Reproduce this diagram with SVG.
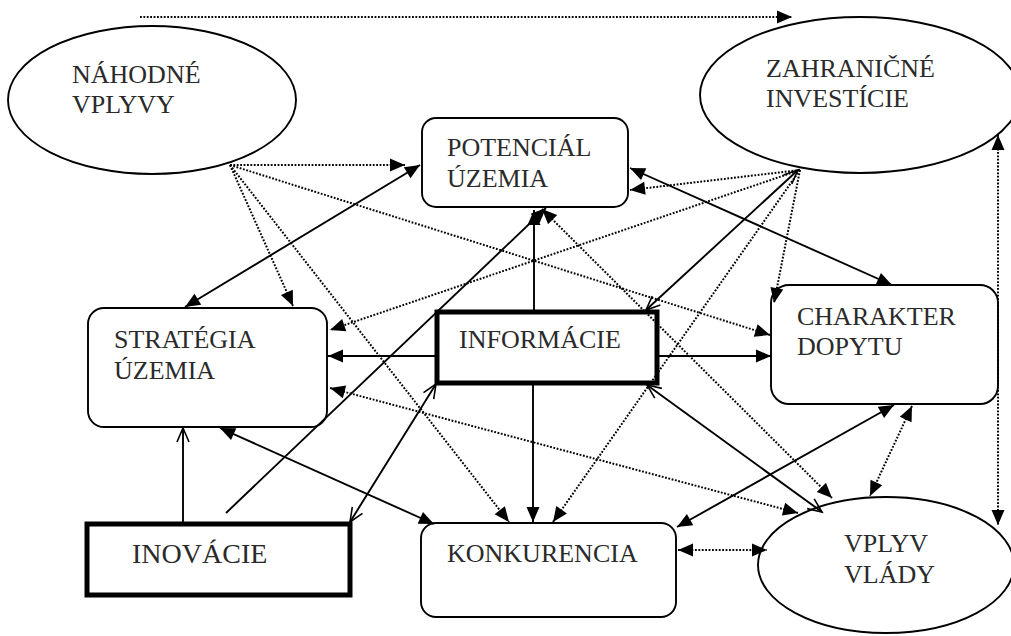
<svg xmlns="http://www.w3.org/2000/svg" width="1011" height="636" viewBox="0 0 1011 636">
<style>
.box{fill:#fff;stroke:#000;stroke-width:1.9}
.thick{fill:#fff;stroke:#000;stroke-width:5}
.lbl{font-family:"Liberation Serif","Times New Roman",serif;font-size:26px;fill:#2a2a2a}
.s{fill:none;stroke:#000;stroke-width:1.9}
.d{fill:none;stroke:#000;stroke-width:2;stroke-dasharray:1.8 1.6}
.f{marker-end:url(#fa)}
.ff{marker-start:url(#fa);marker-end:url(#fa)}
.o{marker-end:url(#oa)}
.oo{marker-start:url(#oa);marker-end:url(#oa)}
</style>
<defs>
<marker id="fa" markerUnits="userSpaceOnUse" markerWidth="16" markerHeight="14" refX="15" refY="6.5" orient="auto-start-reverse" overflow="visible">
<path d="M0,0 L15,6.5 L0,13 z" fill="#000"/>
</marker>
<marker id="oa" markerUnits="userSpaceOnUse" markerWidth="16" markerHeight="14" refX="14" refY="6" orient="auto-start-reverse" overflow="visible">
<path d="M0,0 L14,6 L0,12" fill="none" stroke="#000" stroke-width="1.6"/>
</marker>
</defs>
<rect width="1011" height="636" fill="#fff"/>
<g id="nahodne">
<ellipse class="box" cx="152" cy="100" rx="144" ry="74"/>
<text class="lbl" x="72" y="83">NÁHODNÉ</text>
<text class="lbl" x="72" y="113">VPLYVY</text>
</g>
<g id="zahranicne">
<ellipse class="box" cx="860" cy="95" rx="160" ry="78"/>
<text class="lbl" x="766" y="77">ZAHRANIČNÉ</text>
<text class="lbl" x="766" y="107">INVESTÍCIE</text>
</g>
<g id="potencial">
<rect class="box" x="422" y="118" width="206" height="89" rx="14"/>
<text class="lbl" x="447" y="156">POTENCIÁL</text>
<text class="lbl" x="447" y="187">ÚZEMIA</text>
</g>
<g id="strategia">
<rect class="box" x="88" y="308" width="239" height="119" rx="16"/>
<text class="lbl" x="114" y="348">STRATÉGIA</text>
<text class="lbl" x="114" y="379">ÚZEMIA</text>
</g>
<g id="informacie">
<rect class="thick" x="437" y="312" width="220" height="71"/>
<text class="lbl" x="459" y="348">INFORMÁCIE</text>
</g>
<g id="charakter">
<rect class="box" x="771" y="285" width="227" height="119" rx="18"/>
<text class="lbl" x="797" y="325">CHARAKTER</text>
<text class="lbl" x="797" y="355">DOPYTU</text>
</g>
<g id="inovacie">
<rect class="thick" x="87" y="524" width="263" height="71"/>
<text class="lbl" x="132" y="563" style="font-size:28px">INOVÁCIE</text>
</g>
<g id="konkurencia">
<rect class="box" x="421" y="523" width="255" height="94" rx="15"/>
<text class="lbl" x="447" y="562">KONKURENCIA</text>
</g>
<g id="vplyv">
<ellipse class="box" cx="886" cy="565" rx="128" ry="68"/>
<text class="lbl" x="844" y="552">VPLYV</text>
<text class="lbl" x="844" y="583">VLÁDY</text>
</g>
<g id="connectors">
<path class="s ff" d="M185,307 L420,165"/>
<path class="s f" d="M534,312 L534,210"/>
<path class="s f" d="M226,513 L546,208"/>
<path class="s f" d="M436,356 L328,356"/>
<path class="s f" d="M658,356 L771,356"/>
<path class="s f" d="M533,384 L533,522"/>
<path class="s o" d="M183,524 L183,428"/>
<path class="s oo" d="M350,522 L436,384"/>
<path class="s ff" d="M220,428 L434,524"/>
<path class="s oo" d="M798,170 L646,310"/>
<path class="s ff" d="M630,168 L892,285"/>
<path class="s ff" d="M894,405 L677,527"/>
<path class="s oo" d="M647,385 L822,512"/>
<path class="d f" d="M140,17 L792,17"/>
<path class="d f" d="M230,165 L405,165"/>
<path class="d f" d="M230,165 L293,306"/>
<path class="d f" d="M230,165 L509,522"/>
<path class="d f" d="M230,165 L770,335"/>
<path class="d f" d="M800,170 L630,190"/>
<path class="d f" d="M800,170 L330,330"/>
<path class="d f" d="M800,170 L774,303"/>
<path class="d f" d="M800,170 L553,522"/>
<path class="d ff" d="M542,209 L832,498"/>
<path class="d ff" d="M330,388 L798,513"/>
<path class="d ff" d="M912,406 L870,496"/>
<path class="d ff" d="M998,135 L998,525"/>
<path class="d ff" d="M678,550 L767,550"/>
</g>
</svg>
